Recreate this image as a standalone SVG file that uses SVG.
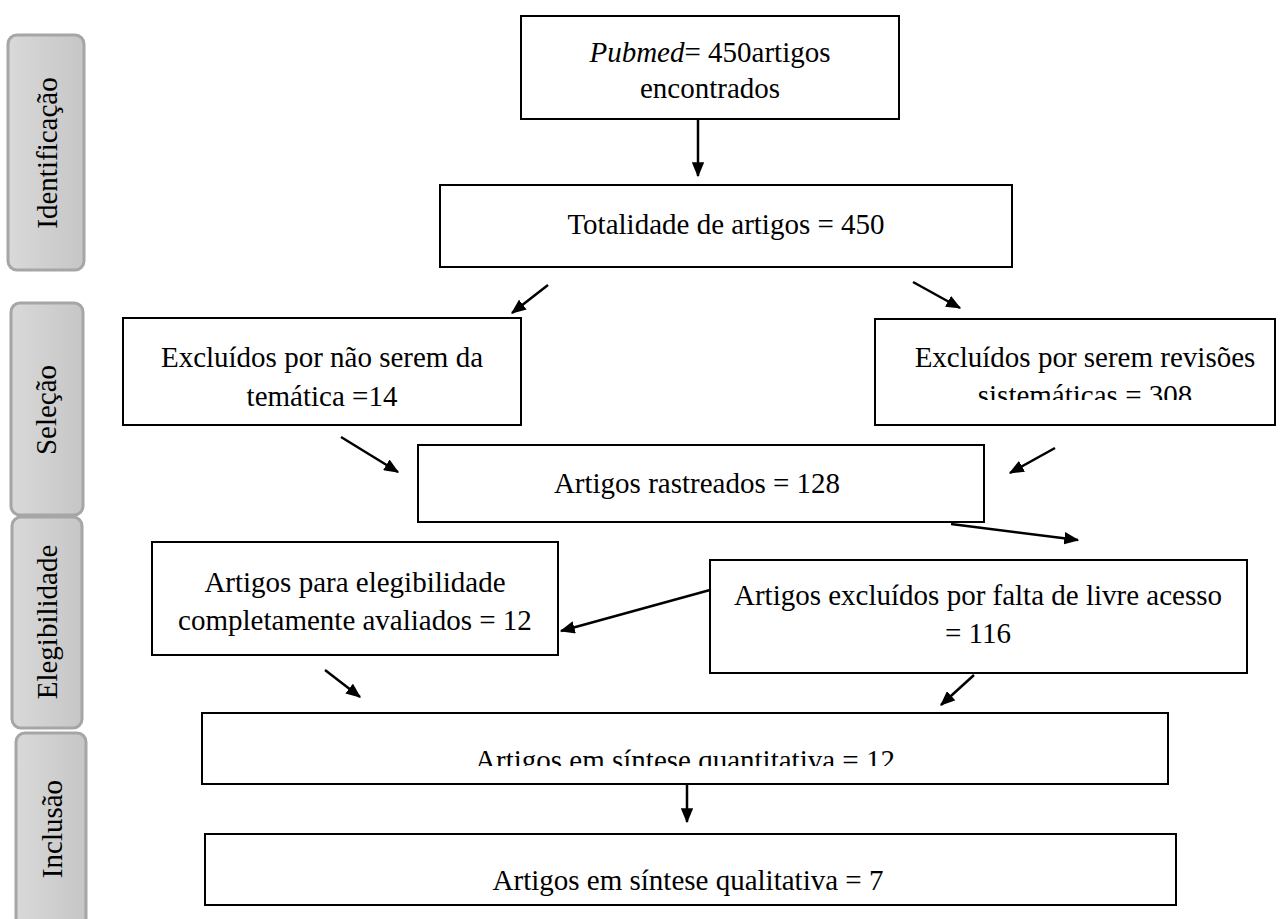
<svg xmlns="http://www.w3.org/2000/svg" width="1283" height="919" viewBox="0 0 1283 919">
<defs>
<linearGradient id="tabg" x1="0" y1="0" x2="1" y2="0">
<stop offset="0" stop-color="#d9d9d9"/>
<stop offset="1" stop-color="#c6c6c6"/>
</linearGradient>
<marker id="ah" viewBox="0 0 12 10" refX="11" refY="5" markerWidth="6" markerHeight="5" orient="auto" markerUnits="strokeWidth">
<path d="M0,0 L12,5 L0,10 z" fill="#000"/>
</marker>
<clipPath id="c308"><rect x="875" y="319" width="400" height="81"/></clipPath>
<clipPath id="cq"><rect x="202" y="713" width="966" height="53"/></clipPath>
</defs>
<style>
.box{fill:#fff;stroke:#000;stroke-width:2}
.tab{fill:url(#tabg);stroke:#a6a6a6;stroke-width:3}
.t{font-family:"Liberation Serif","Times New Roman",serif;font-size:29px;fill:#000;text-anchor:middle}
.c{stroke:#000;stroke-width:2.5;fill:none;marker-end:url(#ah)}
</style>
<rect width="1283" height="919" fill="#fff"/>

<g id="tab-identificacao">
<rect class="tab" x="8" y="35" width="76" height="235" rx="9"/>
<text class="t" transform="translate(57,153) rotate(-90)">Identificação</text>
</g>
<g id="tab-selecao">
<rect class="tab" x="11" y="303" width="72" height="212" rx="9"/>
<text class="t" transform="translate(56,410) rotate(-90)">Seleção</text>
</g>
<g id="tab-elegibilidade">
<rect class="tab" x="12" y="517" width="70" height="211" rx="9"/>
<text class="t" transform="translate(57,622) rotate(-90)">Elegibilidade</text>
</g>
<g id="tab-inclusao">
<rect class="tab" x="16" y="733" width="70" height="200" rx="9"/>
<text class="t" transform="translate(62,829) rotate(-90)">Inclusão</text>
</g>

<g id="n-pubmed">
<rect class="box" x="521" y="16" width="378" height="103"/>
<text class="t" x="710" y="62"><tspan font-style="italic">Pubmed</tspan>= 450artigos</text>
<text class="t" x="710" y="98">encontrados</text>
</g>
<g id="n-totalidade">
<rect class="box" x="440" y="185" width="572" height="82"/>
<text class="t" x="726" y="234">Totalidade de artigos = 450</text>
</g>
<g id="n-excl-tematica">
<rect class="box" x="123" y="318" width="398" height="107"/>
<text class="t" x="322" y="367">Excluídos por não serem da</text>
<text class="t" x="322" y="406">temática =14</text>
</g>
<g id="n-excl-revisoes">
<rect class="box" x="875" y="319" width="400" height="106"/>
<text class="t" x="1085" y="367">Excluídos por serem revisões</text>
<text class="t" x="1085" y="405" clip-path="url(#c308)">sistemáticas = 308</text>
</g>
<g id="n-rastreados">
<rect class="box" x="418" y="445" width="566" height="77"/>
<text class="t" x="697" y="493">Artigos rastreados = 128</text>
</g>
<g id="n-elegibilidade">
<rect class="box" x="152" y="542" width="406" height="113"/>
<text class="t" x="355" y="592">Artigos para elegibilidade</text>
<text class="t" x="355" y="630">completamente avaliados = 12</text>
</g>
<g id="n-excl-acesso">
<rect class="box" x="710" y="560" width="537" height="113"/>
<text class="t" x="978" y="605">Artigos excluídos por falta de livre acesso</text>
<text class="t" x="978" y="643">= 116</text>
</g>
<g id="n-quantitativa">
<rect class="box" x="202" y="713" width="966" height="71"/>
<text class="t" x="685" y="770" clip-path="url(#cq)">Artigos em síntese quantitativa = 12</text>
</g>
<g id="n-qualitativa">
<rect class="box" x="205" y="834" width="971" height="71"/>
<text class="t" x="688" y="890">Artigos em síntese qualitativa = 7</text>
</g>

<g id="connectors">
<line class="c" x1="698" y1="119" x2="698" y2="176"/>
<line class="c" x1="548" y1="285" x2="512" y2="313"/>
<line class="c" x1="913" y1="282" x2="960" y2="308"/>
<line class="c" x1="341" y1="437" x2="398" y2="472"/>
<line class="c" x1="1055" y1="448" x2="1010" y2="473"/>
<line class="c" x1="951" y1="524" x2="1078" y2="540"/>
<line class="c" x1="710" y1="590" x2="561" y2="631"/>
<line class="c" x1="325" y1="670" x2="360" y2="697"/>
<line class="c" x1="974" y1="675" x2="941" y2="705"/>
<line class="c" x1="687" y1="784" x2="687" y2="822"/>
</g>
</svg>
